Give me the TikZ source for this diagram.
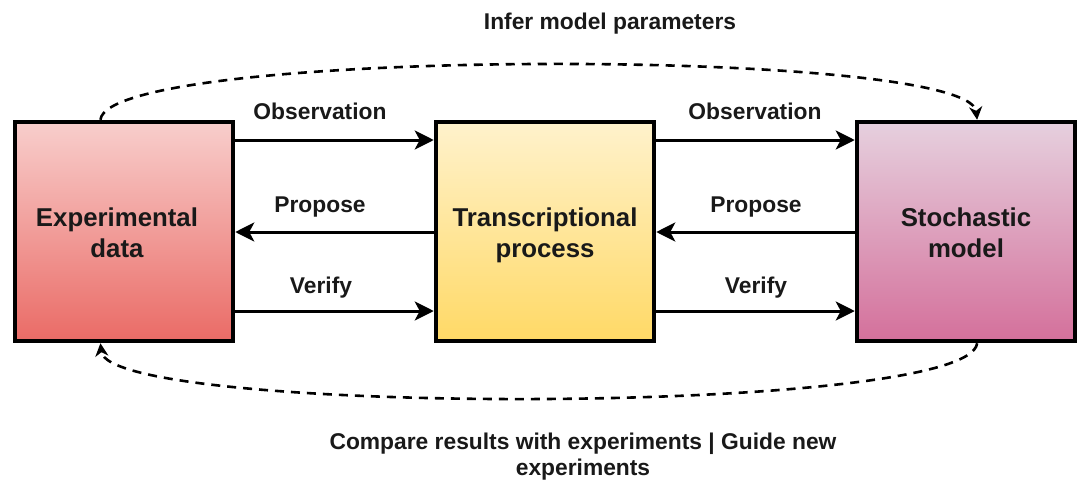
\documentclass[tikz,border=0pt]{standalone}
\usepackage{fontspec}
\setmainfont{Liberation Sans}
\usetikzlibrary{arrows.meta,calc}

\definecolor{redtop}{HTML}{F8CECC}
\definecolor{redbot}{HTML}{EA6B66}
\definecolor{yeltop}{HTML}{FFF2CC}
\definecolor{yelbot}{HTML}{FFD966}
\definecolor{purtop}{HTML}{E6D0DE}
\definecolor{purbot}{HTML}{D4709B}

% two centred lines with some extra room above, so they sit a bit low
\newcommand{\twolines}[2]{\raisebox{0pt}[\dimexpr\height+8pt\relax][\depth]{\begin{tabular}{@{}c@{}}#1\\#2\end{tabular}}}

\tikzset{
  stagebox/.style={draw=black, line width=4.5pt, rectangle, inner sep=0pt,
    minimum width=218pt, minimum height=219pt, align=center,
    font=\bfseries\fontsize{25.8}{31}\selectfont, text=black!90},
  flowarrow/.style={line width=3pt, -{Stealth[length=19pt,width=19pt,inset=5pt]}},
  loopline/.style={line width=2.6pt, dash pattern=on 9pt off 7pt,
    -{Stealth[length=13pt,width=13pt,inset=4pt]}},
  edgetext/.style={font=\bfseries\fontsize{22.8}{26}\selectfont, text=black!90, align=center},
}

\begin{document}
\begin{tikzpicture}[x=1pt,y=-1pt]
  \useasboundingbox (0,0) rectangle (1085,483);

  % three stages
  \node[stagebox, top color=redtop, bottom color=redbot] (exp) at (124,231.5)
    {\hspace*{-14pt}\twolines{Experimental}{data}};
  \node[stagebox, top color=yeltop, bottom color=yelbot] (tx) at (545,231.5)
    {\twolines{Transcriptional}{process}};
  \node[stagebox, top color=purtop, bottom color=purbot] (sto) at (966,231.5)
    {\twolines{Stochastic}{model}};

  % arrows between stages
  \draw[flowarrow] (exp.east |- 0,140) -- (tx.west |- 0,140);
  \draw[flowarrow] (tx.west |- 0,232) -- (exp.east |- 0,232);
  \draw[flowarrow] (exp.east |- 0,311) -- (tx.west |- 0,311);
  \draw[flowarrow] (tx.east |- 0,140) -- (sto.west |- 0,140);
  \draw[flowarrow] (sto.west |- 0,232) -- (tx.east |- 0,232);
  \draw[flowarrow] (tx.east |- 0,311) -- (sto.west |- 0,311);

  \node[edgetext] (obs1) at (320,111) {Observation};
  \node[edgetext] (pro1) at (320,207) {Propose};
  \node[edgetext] (ver1) at (321,288) {Verify};
  \node[edgetext] (obs2) at (755,111) {Observation};
  \node[edgetext] (pro2) at (756,207) {Propose};
  \node[edgetext] (ver2) at (756,288) {Verify};

  % feedback loops
  \coordinate (expTop) at ($(exp.north west)!0.394!(exp.north east)$);
  \coordinate (expBot) at ($(exp.south west)!0.394!(exp.south east)$);
  \coordinate (stoTop) at ($(sto.north west)!0.55!(sto.north east)$);
  \coordinate (stoBot) at ($(sto.south west)!0.55!(sto.south east)$);

  \draw[loopline] (expTop) .. controls ($(expTop)+(8,-73)$) and ($(stoTop)+(-8,-73)$) .. (stoTop);
  \draw[loopline] (stoBot) .. controls ($(stoBot)+(-8,73)$) and ($(expBot)+(8,73)$) .. (expBot);

  \node[edgetext] (infer) at (610,24) {Infer model parameters};
  \node[edgetext] (compare) at (583,457)
    {Compare results with experiments | Guide new\\experiments};
\end{tikzpicture}
\end{document}
